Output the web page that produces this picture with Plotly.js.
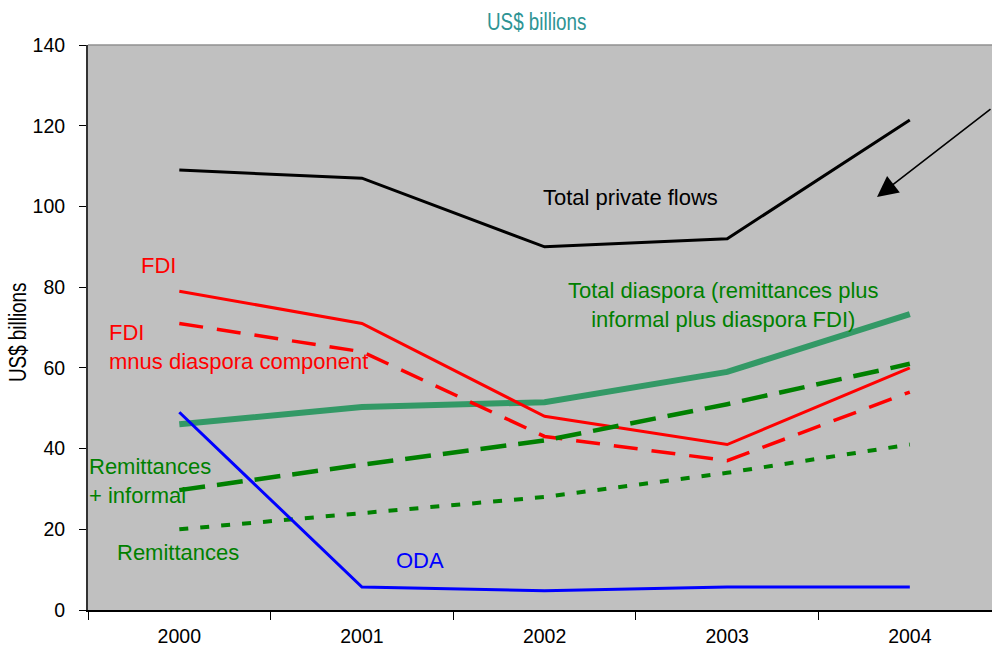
<!DOCTYPE html>
<html><head><meta charset="utf-8">
<script src="https://cdn.plot.ly/plotly-3.0.1.min.js"></script>
<style>html,body{margin:0;padding:0;background:#fff;overflow:hidden}</style>
</head><body><div id="chart" style="width:992px;height:654px"></div>
<script>
// ---- data (US$ billions) ----
const years = ['2000', '2001', '2002', '2003', '2004'];
const totalPrivate = [109, 107, 90, 92, 121.4];
const fdi = [79, 71, 48, 41, 60];
const fdiMinusDiaspora = [71, 64, 43, 37, 54];
const totalDiaspora = [46, 50.3, 51.5, 59, 73.3];
const remitInformal = [29.7, 36, 42, 51, 61];
const remittances = [20, 24, 28, 34, 41];
const oda = [49, 5.7, 4.8, 5.7, 5.7];
const yTickVals = [0, 20, 40, 60, 80, 100, 120, 140];

// ---- styling ----
const SANS = "'Liberation Sans', Arial, sans-serif";
const GREEN = '#008000', TEAL = '#339966', RED = '#ff0000', BLUE = '#0000ff';
const W = 992, H = 654, L = 88, T = 45, B = 44, R = 0;
const PW = W - L - R, PH = H - T - B;
// pixel -> paper helpers for text placement
const px = x => (x - L) / PW;
const py = y => (H - B - y) / PH;

function tr(name, y, color, width, dash) {
  return {type: 'scatter', mode: 'lines', name: name, x: years, y: y,
    line: {color: color, width: width, dash: dash || 'solid'}, hoverinfo: 'x+y+name'};
}
const data = [
  tr('Total private flows', totalPrivate, '#000000', 3),
  tr('Total diaspora', totalDiaspora, TEAL, 6),
  tr('FDI', fdi, RED, 3),
  tr('FDI minus diaspora component', fdiMinusDiaspora, RED, 3.5, '24px,14px'),
  tr('Remittances + informal', remitInformal, GREEN, 4.5, '26px,12px'),
  tr('Remittances', remittances, GREEN, 4, '9px,12px'),
  tr('ODA', oda, BLUE, 3)
];

function lab(text, x, y, color, xanchor, align) {
  return {text: text, xref: 'paper', yref: 'paper', x: px(x), y: py(y),
    xanchor: xanchor || 'center', yanchor: 'middle', align: align || 'center',
    showarrow: false, font: {family: SANS, size: 22, color: color}, borderpad: 0};
}
const annotations = [
  lab('Total private flows', 630, 198, '#000000'),
  lab('FDI', 140, 265, RED, 'left', 'left'),
  lab('FDI<br>mnus diaspora component', 108, 347, RED, 'left', 'left'),
  lab('Total diaspora (remittances plus<br>informal plus diaspora FDI)', 723, 305, GREEN),
  lab('Remittances<br>+ informal', 88, 481, GREEN, 'left', 'left'),
  lab('Remittances', 116, 552, GREEN, 'left', 'left'),
  lab('ODA', 395, 560, BLUE, 'left', 'left'),
  // subtitle
  {text: 'US$ billions', xref: 'paper', yref: 'paper', x: px(536), y: py(22),
    xanchor: 'center', yanchor: 'middle', showarrow: false, borderpad: 0,
    font: {family: SANS, size: 23, color: '#2e9494'}},
  // y axis title
  {text: 'US$ billions', xref: 'paper', yref: 'paper', x: px(18), y: py(333),
    xanchor: 'center', yanchor: 'middle', showarrow: false, borderpad: 0, textangle: -90,
    font: {family: SANS, size: 23, color: '#000000'}},
  // pointer arrow
  {text: '', xref: 'paper', yref: 'paper', x: px(877), y: py(197),
    ax: 115, ay: -89, showarrow: true, arrowhead: 2, arrowsize: 2.6,
    arrowwidth: 1.6, arrowcolor: '#000000', standoff: 0}
];

const layout = {
  width: W, height: H,
  margin: {l: L, r: R, t: T, b: B, pad: 0},
  paper_bgcolor: '#ffffff', plot_bgcolor: '#c0c0c0',
  showlegend: false,
  xaxis: {type: 'category', range: [-0.5, 4.45], tickson: 'boundaries',
    ticks: 'outside', ticklen: 8, tickwidth: 1, tickcolor: '#000000',
    showgrid: false, zeroline: false, showline: true, linecolor: '#000000', linewidth: 2,
    tickfont: {family: SANS, size: 19.5, color: '#000000'}, ticklabelstandoff: 8,
    fixedrange: true},
  yaxis: {range: [0, 140], tickmode: 'array', tickvals: yTickVals,
    ticks: 'outside', ticklen: 7, tickwidth: 1, tickcolor: '#000000',
    showgrid: false, zeroline: false, showline: true, linecolor: '#333333', linewidth: 2,
    tickfont: {family: SANS, size: 19.5, color: '#000000'}, ticklabelstandoff: 10,
    fixedrange: true},
  shapes: [{type: 'line', xref: 'paper', yref: 'paper', x0: 0, x1: 1, y0: 1, y1: 1,
    line: {color: '#909090', width: 1.5}}],
  annotations: annotations
};

function condense() {
  // the reference uses a condensed face for these labels: squeeze them horizontally
  document.querySelectorAll('#chart .annotation-text').forEach(t => {
    if (t.textContent === 'US$ billions') {
      t.style.transformBox = 'fill-box';
      t.style.transformOrigin = 'center';
      t.style.transform = 'scaleX(0.82)';
    }
  });
}
Plotly.newPlot('chart', data, layout, {displayModeBar: false, staticPlot: true}).then(condense);
</script>
</body></html>
